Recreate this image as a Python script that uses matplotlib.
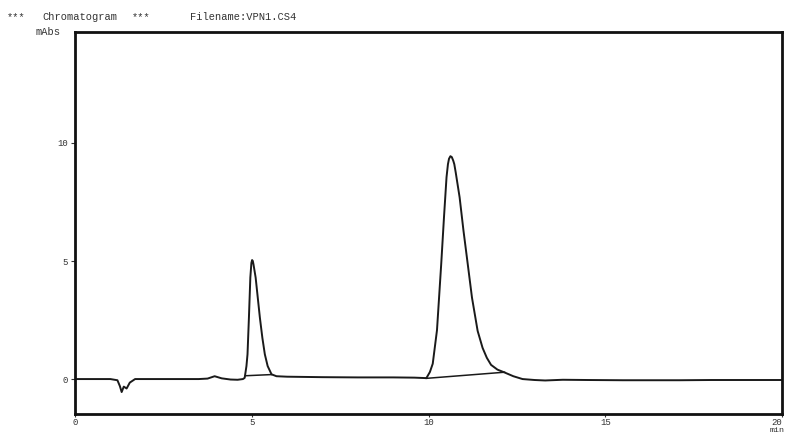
import matplotlib
matplotlib.use("Agg")
import matplotlib.pyplot as plt

# ---- data (time in min, absorbance in mAbs) ----
time_min = [0, 0.5, 1.0, 1.2, 1.27, 1.32, 1.38, 1.46, 1.55, 1.7, 2.0, 2.5, 3.0,
            3.5, 3.75, 3.95, 4.15, 4.4, 4.6, 4.75, 4.80, 4.85, 4.88, 4.92, 4.96,
            4.99, 5.01, 5.03, 5.05, 5.11, 5.17, 5.23, 5.30, 5.37, 5.45, 5.56, 5.7,
            6.0, 6.5, 7.0, 8.0, 9.0, 9.6, 9.94, 10.04, 10.12, 10.24, 10.36, 10.44,
            10.51, 10.55, 10.58, 10.62, 10.66, 10.70, 10.73, 10.77, 10.88, 10.99,
            11.11, 11.23, 11.39, 11.53, 11.65, 11.77, 11.95, 12.15, 12.4, 12.66,
            13.0, 13.3, 13.8, 14.5, 15.5, 16.5, 17.1, 18.0, 19.0, 20.0]
signal_mabs = [0.0, 0.0, 0.0, -0.05, -0.3, -0.55, -0.32, -0.4, -0.15, 0.0, 0.0,
               0.0, 0.0, 0.0, 0.02, 0.12, 0.03, -0.02, -0.03, 0.0, 0.05, 0.55,
               1.05, 2.6, 4.3, 4.92, 5.04, 5.0, 4.85, 4.3, 3.45, 2.6, 1.75, 1.05,
               0.55, 0.2, 0.12, 0.1, 0.09, 0.08, 0.07, 0.07, 0.06, 0.04, 0.3, 0.65,
               2.07, 4.88, 6.9, 8.55, 9.1, 9.33, 9.44, 9.4, 9.25, 9.1, 8.75, 7.7,
               6.28, 4.87, 3.45, 2.04, 1.32, 0.9, 0.6, 0.4, 0.28, 0.12, 0.0, -0.04,
               -0.06, -0.03, -0.04, -0.05, -0.05, -0.05, -0.04, -0.04, -0.04]

# integration baselines drawn under the two peaks
base1_t = [4.82, 5.56]
base1_v = [0.14, 0.19]
base2_t = [9.94, 12.15]
base2_v = [0.03, 0.29]

x_ticks = [0, 5, 10, 15, 20]
x_labels = ["0", "5", "10", "15", "20"]
y_ticks = [0, 5, 10]
y_labels = ["0", "5", "10"]

W, H = 786, 436
fig = plt.figure(figsize=(W / 100, H / 100), dpi=100)
fig.patch.set_facecolor("white")
ax = fig.add_axes([75 / W, 1 - 414 / H, 707 / W, 382 / H])

ink = "#1a1a1a"
ax.plot(time_min, signal_mabs, color=ink, lw=1.4, solid_joinstyle="round")
ax.plot(base1_t, base1_v, color=ink, lw=1.1)
ax.plot(base2_t, base2_v, color=ink, lw=1.1)

ax.set_xlim(0, 20)
ax.set_ylim(-1.48, 14.7)
for s in ax.spines.values():
    s.set_linewidth(2.0)
    s.set_color("#111111")

mono = ["Liberation Mono", "DejaVu Sans Mono"]
ax.set_xticks(x_ticks)
ax.set_xticklabels(x_labels, family=mono, fontsize=6.5, color="#333333")
ax.get_xticklabels()[-1].set_horizontalalignment("right")
ax.set_yticks(y_ticks)
ax.set_yticklabels(y_labels, family=mono, fontsize=6.5, color="#333333")
ax.tick_params(axis="x", length=2, width=0.8, pad=1, colors="#333333")
ax.tick_params(axis="y", length=3, width=0.8, pad=2, colors="#333333")

tc = "#333333"
fig.text(7 / W, 1 - 17 / H, "***", family=mono, fontsize=7.5, color=tc, va="center")
fig.text(42 / W, 1 - 17 / H, "Chromatogram", family=mono, fontsize=7.5, color=tc, va="center")
fig.text(132 / W, 1 - 17 / H, "***", family=mono, fontsize=7.5, color=tc, va="center")
fig.text(190 / W, 1 - 17 / H, "Filename:VPN1.CS4", family=mono, fontsize=7.5, color=tc, va="center")
fig.text(36 / W, 1 - 32 / H, "mAbs", family=mono, fontsize=7.5, color=tc, va="center")
fig.text(785 / W, 1 - 434 / H, "min", family=mono, fontsize=6, color=tc, va="bottom", ha="right")

fig.savefig("out.png", dpi=100, facecolor="white")
